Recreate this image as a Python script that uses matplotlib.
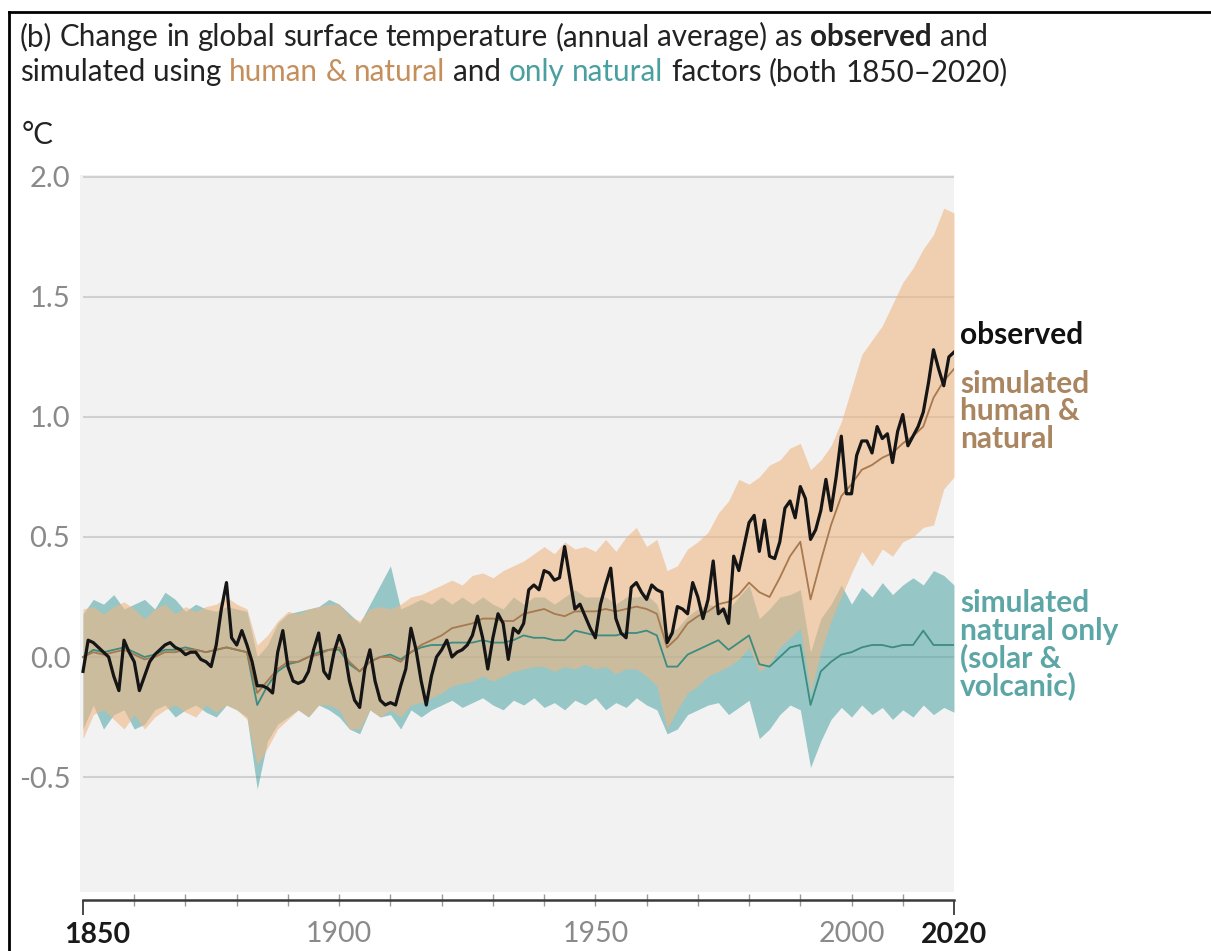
import matplotlib
matplotlib.use("Agg")
import matplotlib.pyplot as plt
import matplotlib.transforms as mtransforms
from matplotlib.lines import Line2D
import numpy as np

# observed annual values 1850-2020 (°C, relative to 1850-1900)
obs_years = list(range(1850, 2021))
observed = [
    -0.06, 0.07, 0.06, 0.04, 0.02, 0.00, -0.08, -0.14, 0.07, 0.02,
    -0.02, -0.14, -0.08, -0.02, 0.01, 0.03, 0.05, 0.06, 0.04, 0.03,
    0.01, 0.02, 0.02, -0.01, -0.02, -0.04, 0.05, 0.20, 0.31, 0.08,
    0.05, 0.11, 0.05, -0.02, -0.12, -0.12, -0.13, -0.15, 0.02, 0.11,
    -0.04, -0.10, -0.11, -0.10, -0.06, 0.03, 0.10, -0.06, -0.09, 0.02,
    0.09, 0.03, -0.10, -0.18, -0.21, -0.05, 0.03, -0.10, -0.18, -0.20,
    -0.19, -0.20, -0.12, -0.05, 0.12, 0.03, -0.10, -0.20, -0.08, 0.00,
    0.03, 0.07, 0.00, 0.02, 0.03, 0.05, 0.09, 0.17, 0.08, -0.05,
    0.08, 0.18, 0.14, -0.01, 0.12, 0.10, 0.14, 0.28, 0.30, 0.28,
    0.36, 0.35, 0.32, 0.33, 0.46, 0.33, 0.20, 0.22, 0.17, 0.12,
    0.08, 0.22, 0.30, 0.37, 0.16, 0.10, 0.08, 0.29, 0.31, 0.27,
    0.24, 0.30, 0.28, 0.27, 0.06, 0.10, 0.21, 0.20, 0.18, 0.31,
    0.25, 0.16, 0.24, 0.40, 0.18, 0.20, 0.14, 0.42, 0.36, 0.46,
    0.56, 0.59, 0.44, 0.57, 0.42, 0.41, 0.48, 0.62, 0.65, 0.58,
    0.71, 0.66, 0.49, 0.53, 0.61, 0.74, 0.61, 0.75, 0.92, 0.68,
    0.68, 0.84, 0.90, 0.90, 0.85, 0.96, 0.91, 0.93, 0.81, 0.94,
    1.01, 0.88, 0.92, 0.96, 1.02, 1.14, 1.28, 1.20, 1.13, 1.25,
    1.27,
]

# simulations, every second year 1850-2020
sim_years = list(range(1850, 2021, 2))
human_mean = [
    0.00, 0.02, 0.01, 0.02, 0.03, 0.01, -0.01, 0.00, 0.02, 0.02,
    0.03, 0.03, 0.02, 0.03, 0.04, 0.03, 0.02, -0.15, -0.10, -0.05,
    -0.02, -0.02, 0.00, 0.01, 0.03, 0.04, -0.02, -0.06, -0.02, 0.00,
    0.00, -0.02, 0.02, 0.05, 0.07, 0.09, 0.12, 0.13, 0.14, 0.16,
    0.16, 0.15, 0.15, 0.18, 0.19, 0.20, 0.18, 0.17, 0.19, 0.19,
    0.19, 0.20, 0.19, 0.20, 0.21, 0.20, 0.18, 0.04, 0.08, 0.14,
    0.17, 0.19, 0.22, 0.23, 0.26, 0.31, 0.27, 0.25, 0.33, 0.42,
    0.48, 0.24, 0.40, 0.55, 0.67, 0.72, 0.78, 0.80, 0.83, 0.85,
    0.89, 0.92, 0.96, 1.08, 1.15, 1.20,
]
human_upper = [
    0.20, 0.21, 0.18, 0.21, 0.23, 0.20, 0.16, 0.20, 0.22, 0.18,
    0.21, 0.19, 0.21, 0.22, 0.25, 0.22, 0.20, 0.05, 0.09, 0.15,
    0.19, 0.18, 0.20, 0.21, 0.22, 0.22, 0.17, 0.15, 0.20, 0.21,
    0.20, 0.22, 0.25, 0.26, 0.28, 0.30, 0.32, 0.30, 0.34, 0.35,
    0.33, 0.36, 0.38, 0.40, 0.43, 0.46, 0.43, 0.48, 0.45, 0.46,
    0.44, 0.49, 0.44, 0.50, 0.54, 0.46, 0.49, 0.36, 0.38, 0.45,
    0.48, 0.52, 0.60, 0.65, 0.74, 0.72, 0.75, 0.80, 0.82, 0.87,
    0.89, 0.78, 0.82, 0.88, 0.98, 1.12, 1.26, 1.32, 1.38, 1.47,
    1.56, 1.62, 1.70, 1.76, 1.87, 1.85,
]
human_lower = [
    -0.34, -0.24, -0.22, -0.26, -0.30, -0.24, -0.30, -0.25, -0.22, -0.20,
    -0.23, -0.25, -0.20, -0.23, -0.20, -0.22, -0.26, -0.45, -0.38, -0.30,
    -0.26, -0.22, -0.25, -0.20, -0.20, -0.22, -0.30, -0.30, -0.22, -0.25,
    -0.22, -0.25, -0.20, -0.19, -0.17, -0.15, -0.12, -0.11, -0.10, -0.08,
    -0.10, -0.08, -0.06, -0.05, -0.04, -0.04, -0.06, -0.04, -0.05, -0.03,
    -0.05, -0.04, -0.07, -0.05, -0.05, -0.08, -0.12, -0.30, -0.22, -0.15,
    -0.12, -0.08, -0.06, -0.04, -0.01, 0.04, -0.06, -0.03, 0.04, 0.08,
    0.12, -0.15, 0.02, 0.15, 0.25, 0.35, 0.44, 0.38, 0.45, 0.42,
    0.48, 0.50, 0.54, 0.55, 0.70, 0.75,
]
natural_mean = [
    0.00, 0.03, 0.02, 0.03, 0.04, 0.02, 0.00, 0.01, 0.03, 0.03,
    0.04, 0.03, 0.02, 0.03, 0.04, 0.03, 0.02, -0.20, -0.12, -0.06,
    -0.03, -0.02, 0.00, 0.02, 0.03, 0.03, -0.03, -0.06, -0.02, 0.00,
    0.01, -0.01, 0.02, 0.04, 0.05, 0.05, 0.06, 0.06, 0.06, 0.07,
    0.06, 0.06, 0.07, 0.09, 0.08, 0.08, 0.07, 0.07, 0.11, 0.10,
    0.09, 0.09, 0.09, 0.10, 0.10, 0.11, 0.09, -0.04, -0.04, 0.01,
    0.03, 0.05, 0.07, 0.03, 0.06, 0.09, -0.03, -0.04, 0.00, 0.04,
    0.05, -0.20, -0.06, -0.02, 0.01, 0.02, 0.04, 0.05, 0.05, 0.04,
    0.05, 0.05, 0.11, 0.05, 0.05, 0.05,
]
natural_upper = [
    0.18, 0.24, 0.22, 0.26, 0.20, 0.22, 0.24, 0.20, 0.27, 0.24,
    0.19, 0.22, 0.20, 0.19, 0.21, 0.20, 0.19, 0.00, 0.05, 0.14,
    0.18, 0.19, 0.20, 0.21, 0.24, 0.22, 0.18, 0.14, 0.22, 0.30,
    0.38, 0.20, 0.22, 0.24, 0.22, 0.25, 0.22, 0.25, 0.22, 0.25,
    0.22, 0.20, 0.25, 0.22, 0.25, 0.25, 0.22, 0.25, 0.28, 0.25,
    0.25, 0.25, 0.22, 0.25, 0.25, 0.26, 0.22, 0.10, 0.12, 0.17,
    0.20, 0.22, 0.21, 0.20, 0.25, 0.30, 0.16, 0.20, 0.25, 0.26,
    0.28, 0.02, 0.16, 0.22, 0.30, 0.22, 0.29, 0.25, 0.31, 0.26,
    0.30, 0.33, 0.30, 0.36, 0.34, 0.30,
]
natural_lower = [
    -0.30, -0.20, -0.30, -0.24, -0.22, -0.30, -0.28, -0.22, -0.20, -0.25,
    -0.22, -0.20, -0.23, -0.25, -0.20, -0.22, -0.25, -0.55, -0.35, -0.28,
    -0.25, -0.22, -0.25, -0.20, -0.22, -0.25, -0.30, -0.32, -0.22, -0.25,
    -0.24, -0.30, -0.22, -0.25, -0.22, -0.20, -0.18, -0.21, -0.19, -0.17,
    -0.20, -0.22, -0.18, -0.20, -0.17, -0.21, -0.19, -0.22, -0.18, -0.20,
    -0.17, -0.22, -0.19, -0.21, -0.17, -0.20, -0.22, -0.32, -0.30, -0.24,
    -0.22, -0.20, -0.19, -0.24, -0.21, -0.18, -0.34, -0.30, -0.24, -0.20,
    -0.22, -0.46, -0.35, -0.26, -0.21, -0.25, -0.20, -0.24, -0.21, -0.26,
    -0.22, -0.25, -0.20, -0.24, -0.21, -0.23,
]

y_ticks = [-0.5, 0.0, 0.5, 1.0, 1.5, 2.0]
y_tick_labels = ["-0.5", "0.0", "0.5", "1.0", "1.5", "2.0"]

W, H = 1211, 951
FONT = "Lato"
TITLE_FS = 21.3
LABEL_FS = 21.5
BROWN = "#a8784e"
BROWN_TXT = "#a98560"
TEAL_TXT = "#5ca6a6"


def fx(px):
    return px / W


def fy(py):
    return 1 - py / H


fig = plt.figure(figsize=(W / 100, H / 100), dpi=100)
plt.rcParams["font.family"] = [FONT, "DejaVu Sans"]

ax = fig.add_axes([fx(80), fy(892), (954 - 80) / W, (892 - 175) / H])
ax.set_facecolor("#f2f2f2")
ax.set_xlim(1849.41, 2020)
ax.set_ylim(-0.979, 2.008)

ax.hlines(y_ticks, 1850, 2020, color="#d0d0d0", lw=1.5, zorder=1)

ax.fill_between(sim_years, natural_lower, natural_upper, color="#4ba2a2",
                alpha=0.55, lw=0, zorder=2)
ax.fill_between(sim_years, human_lower, human_upper, color="#efb684",
                alpha=0.6, lw=0, zorder=3)
ax.plot(sim_years, natural_mean, color="#3d8c80", lw=1.3, zorder=4)
ax.plot(sim_years, human_mean, color=BROWN, lw=1.3, zorder=5)
ax.plot(obs_years, observed, color="#151515", lw=2.3, zorder=6)

for side in ["left", "top", "right"]:
    ax.spines[side].set_visible(False)
ax.spines["bottom"].set_position(("outward", 5.8))
ax.spines["bottom"].set_bounds(1850, 2020)
ax.spines["bottom"].set_color("#3a3a3a")
ax.spines["bottom"].set_linewidth(1.8)

ax.set_yticks(y_ticks, y_tick_labels)
ax.tick_params(axis="y", length=0, pad=7, labelsize=21, labelcolor="#8a8a8a")

ax.set_xticks([1850, 2020], ["1850", "2020"])
minor_pos = list(range(1860, 2020, 10))
minor_lab = [str(v) if v in (1900, 1950, 2000) else "" for v in minor_pos]
ax.set_xticks(minor_pos, minor_lab, minor=True)
ax.tick_params(axis="x", which="major", direction="out", length=11, width=1.3,
               color="#3a3a3a", pad=5, labelsize=20.5, labelcolor="#1a1a1a")
ax.tick_params(axis="x", which="minor", direction="inout", length=9, width=1.0,
               color="#9a9a9a", pad=10.5, labelsize=20.5, labelcolor="#8a8a8a")
for lab in ax.get_xticklabels():
    lab.set_fontweight("bold")
first = ax.get_xticklabels()[0]
first.set_transform(first.get_transform() +
                    mtransforms.ScaledTranslation(14 / 100, 0, fig.dpi_scale_trans))

# title with coloured words
renderer = fig.canvas.get_renderer()


def text_width(s, weight):
    t = fig.text(0, 0, s, fontsize=TITLE_FS, fontweight=weight, family=FONT)
    w = t.get_window_extent(renderer).width
    t.remove()
    return w


space_w = text_width("a a", "normal") - text_width("aa", "normal")


def draw_line(pieces, x_px, base_px):
    x = x_px
    for s, color, weight in pieces:
        for word in s.split(" "):
            if word:
                fig.text(fx(x), fy(base_px), word, fontsize=TITLE_FS, color=color,
                         fontweight=weight, family=FONT, va="baseline")
                x += text_width(word, weight)
            x += space_w
        x -= space_w


dark = "#222222"
draw_line([("(b) Change in global surface temperature (annual average) as ", dark, "normal"),
           ("observed", dark, "bold"), (" and", dark, "normal")], 20, 46)
draw_line([("simulated using ", dark, "normal"), ("human & natural", "#c58f5c", "normal"),
           (" and ", dark, "normal"), ("only natural", "#4a9f9f", "normal"),
           (" factors (both 1850–2020)", dark, "normal")], 20, 81)

fig.text(fx(22), fy(144), "°C", fontsize=TITLE_FS, color=dark, family=FONT, va="baseline")

fig.text(fx(960), fy(344), "observed", fontsize=LABEL_FS, color="#111111",
         fontweight="bold", family=FONT, va="baseline")
for i, s in enumerate(["simulated", "human &", "natural"]):
    fig.text(fx(960), fy(393 + 27.5 * i), s, fontsize=LABEL_FS, color=BROWN_TXT,
             fontweight="bold", family=FONT, va="baseline")
for i, s in enumerate(["simulated", "natural only", "(solar &", "volcanic)"]):
    fig.text(fx(960), fy(612 + 27.7 * i), s, fontsize=LABEL_FS, color=TEAL_TXT,
             fontweight="bold", family=FONT, va="baseline")

# frame lines of the panel
fig.add_artist(Line2D([fx(8.5), fx(8.5)], [0, fy(12)], color="black", lw=2))
fig.add_artist(Line2D([fx(8.5), 1], [fy(12), fy(12)], color="black", lw=2))

fig.savefig("out.png", dpi=100, facecolor="white")
